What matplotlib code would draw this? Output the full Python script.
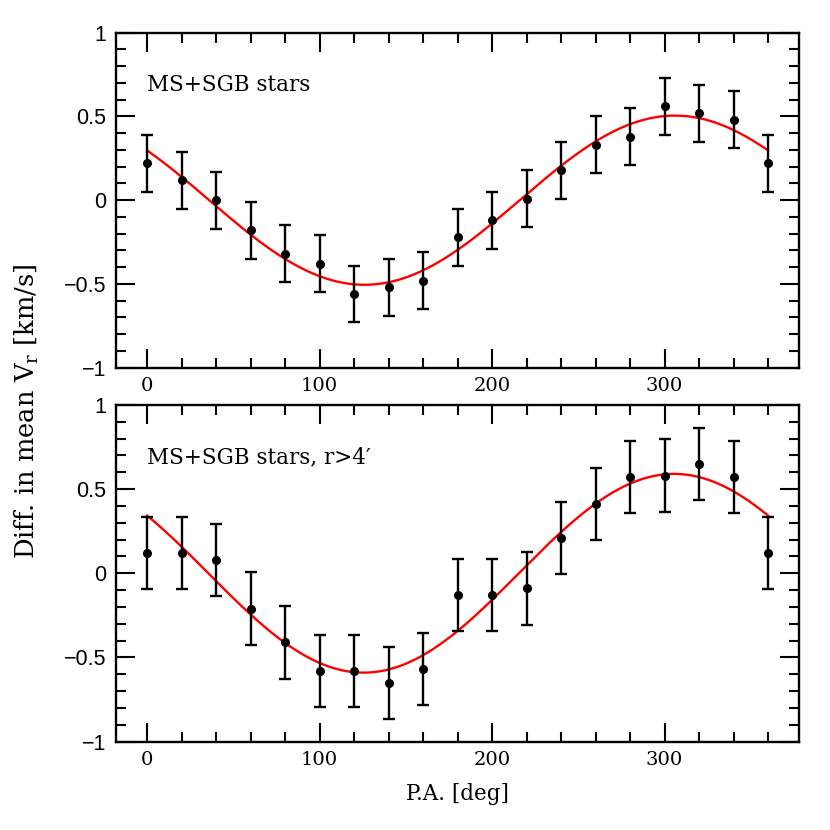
import numpy as np
import matplotlib
matplotlib.use("Agg")
import matplotlib.pyplot as plt
from matplotlib.ticker import MultipleLocator, FuncFormatter

# position angle bins (deg)
pa = [0, 20, 40, 60, 80, 100, 120, 140, 160, 180, 200, 220, 240, 260, 280, 300, 320, 340, 360]

# top panel: all MS+SGB stars
dv_all = [0.22, 0.12, 0.00, -0.18, -0.32, -0.38, -0.56, -0.52, -0.48, -0.22,
          -0.12, 0.01, 0.18, 0.33, 0.38, 0.56, 0.52, 0.48, 0.22]
err_all = [0.17] * len(pa)
fit_all = dict(amp=0.505, peak=306.0)

# bottom panel: MS+SGB stars, r>4'
dv_out = [0.12, 0.12, 0.08, -0.21, -0.41, -0.58, -0.58, -0.65, -0.57, -0.13,
          -0.13, -0.09, 0.21, 0.41, 0.57, 0.58, 0.65, 0.57, 0.12]
err_out = [0.215] * len(pa)
fit_out = dict(amp=0.59, peak=305.5)

labels = ["MS+SGB stars", "MS+SGB stars, r>4\u2032"]

SERIF = ["DejaVu Serif"]
SANS = ["Liberation Sans", "DejaVu Sans"]


def yfmt(v, pos):
    if abs(v) < 1e-9:
        return "0"
    return ("%g" % v).replace("-", "\u2212")


def draw_panel(ax, y, yerr, fit, label):
    ax.errorbar(pa, y, yerr=yerr, fmt="o", color="black", ms=5.5, elinewidth=1.7,
                capsize=4, capthick=1.7, zorder=3)
    xs = np.linspace(pa[0], pa[-1], 400)
    ax.plot(xs, fit["amp"] * np.cos(np.radians(xs - fit["peak"])), color="red", lw=1.7, zorder=2)
    ax.set_xlim(-18, 378)
    ax.set_ylim(-1, 1)
    ax.xaxis.set_major_locator(MultipleLocator(100))
    ax.xaxis.set_minor_locator(MultipleLocator(20))
    ax.yaxis.set_major_locator(MultipleLocator(0.5))
    ax.yaxis.set_minor_locator(MultipleLocator(0.1))
    ax.yaxis.set_major_formatter(FuncFormatter(yfmt))
    ax.tick_params(which="both", direction="in", top=True, right=True, width=1.5)
    ax.tick_params(which="major", length=14, pad=7)
    ax.tick_params(which="minor", length=7)
    for t in ax.get_xticklabels():
        t.set_family(SERIF)
        t.set_fontsize(14)
    for t in ax.get_yticklabels():
        t.set_family(SANS)
        t.set_fontsize(15.5)
    for sp in ax.spines.values():
        sp.set_linewidth(1.7)
    ax.text(0.046, 0.845, label, transform=ax.transAxes, family=SERIF,
            fontsize=15.5, va="center", ha="left")


fig = plt.figure(figsize=(8.3, 8.3), dpi=100)
ax1 = fig.add_axes([0.1398, 0.557, 0.823, 0.4036])
ax2 = fig.add_axes([0.1398, 0.1064, 0.823, 0.4058])

draw_panel(ax1, dv_all, err_all, fit_all, labels[0])
draw_panel(ax2, dv_out, err_out, fit_out, labels[1])

ax2.set_xlabel("P.A. [deg]", family=SERIF, fontsize=15.5, labelpad=10)
fig.text(0.032, 0.504, r"Diff. in mean V$_\mathregular{r}$ [km/s]", rotation=90,
         family=SERIF, fontsize=18.5, ha="center", va="center")

fig.savefig("out.png", dpi=100)
